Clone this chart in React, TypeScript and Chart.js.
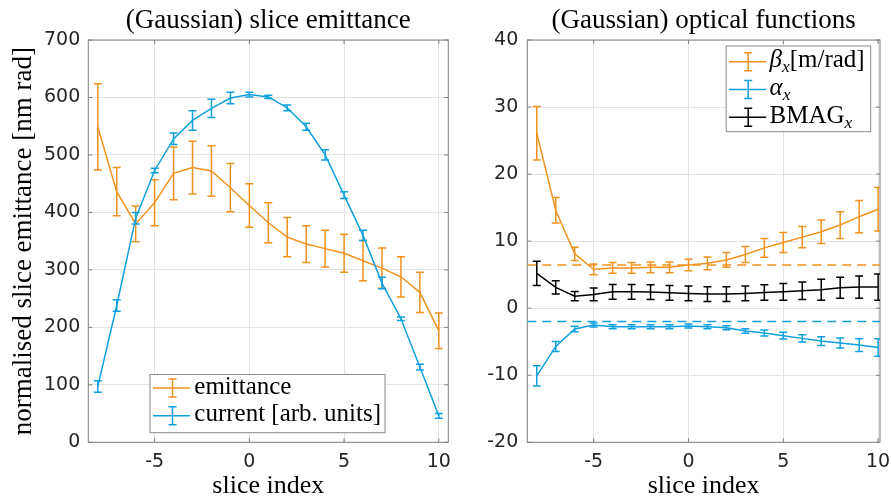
import React, { useEffect, useRef } from "react";
import { Chart, registerables } from "chart.js";

Chart.register(...registerables);

// ---------------- data ----------------
const sliceIndex = [-8, -7, -6, -5, -4, -3, -2, -1, 0, 1, 2, 3, 4, 5, 6, 7, 8, 9, 10];

const emittance = [549, 436, 380, 417, 468, 478, 472, 443, 412, 382, 357, 345, 337, 329, 316, 303, 288, 261, 194];
const emittanceErr = [75, 42, 31, 40, 46, 46, 44, 42, 38, 35, 34, 32, 32, 33, 35, 35, 35, 35, 31];
const current = [97, 238, 390, 473, 528, 560, 581, 599, 605, 601, 582, 549, 500, 430, 360, 277, 215, 131, 46];
const currentErr = [10, 10, 10, 4, 10, 17, 16, 10, 4, 3, 5, 6, 9, 6, 9, 10, 3, 5, 4];

const betaX = [26.1, 14.6, 8.1, 5.8, 6.0, 6.0, 6.1, 6.1, 6.45, 6.7, 7.2, 8.0, 9.0, 9.8, 10.6, 11.4, 12.4, 13.65, 14.75];
const betaXErr = [4.0, 1.9, 1.0, 0.8, 0.8, 0.8, 0.8, 0.8, 0.85, 0.95, 1.1, 1.2, 1.4, 1.5, 1.6, 1.75, 2.0, 2.4, 3.25];
const alphaX = [-10.1, -5.7, -3.1, -2.5, -2.75, -2.75, -2.75, -2.75, -2.65, -2.75, -2.9, -3.4, -3.7, -4.1, -4.5, -4.9, -5.2, -5.5, -5.85];
const alphaXErr = [1.5, 0.75, 0.4, 0.3, 0.3, 0.3, 0.3, 0.3, 0.3, 0.3, 0.3, 0.35, 0.45, 0.5, 0.55, 0.65, 0.75, 0.95, 1.3];
const bmagX = [5.2, 3.1, 1.8, 2.05, 2.45, 2.45, 2.4, 2.3, 2.2, 2.1, 2.1, 2.2, 2.35, 2.45, 2.6, 2.75, 3.05, 3.15, 3.15];
const bmagXErr = [1.8, 1.0, 0.7, 0.95, 1.1, 1.1, 1.1, 1.1, 1.1, 1.1, 1.1, 1.1, 1.15, 1.25, 1.3, 1.55, 1.55, 1.65, 1.95];

const betaDesign = 6.45;
const alphaDesign = -2.0;

const xTicks = [-5, 0, 5, 10];
const leftYTicks = [0, 100, 200, 300, 400, 500, 600, 700];
const rightYTicks = [-20, -10, 0, 10, 20, 30, 40];
const leftXRange = [-8.5, 10.5];
const rightXRange = [-8.5, 10.1];
const leftYRange = [0, 700];
const rightYRange = [-20, 40];

const leftTitle = "(Gaussian) slice emittance";
const rightTitle = "(Gaussian) optical functions";
const xLabel = "slice index";
const leftYLabel = "normalised slice emittance [nm rad]";

// ---------------- styles ----------------
const ORANGE = "rgb(242,146,30)";
const BLUE = "rgb(16,160,222)";
const BLACK = "#000000";
const GRID = "#e3e3e3";
const FRAME = "#808080";
const TICK = "#262626";
const SERIF = "'Liberation Serif', 'Times New Roman', serif";
const SANS = "'DejaVu Sans', sans-serif";
const CAP = 4;

type Seg = { t: string; it?: boolean; sub?: boolean };

function pts(xs: number[], ys: number[]) {
  return xs.map((x, i) => ({ x, y: ys[i] }));
}

// ---------------- plugins ----------------
const errorBarPlugin = {
  id: "errorBars",
  afterDatasetDraw(chart: any, args: any) {
    const ds: any = chart.data.datasets[args.index];
    if (!ds.errors) return;
    const xs = args.meta.xScale;
    const ys = args.meta.yScale;
    const ctx = chart.ctx;
    const a = chart.chartArea;
    ctx.save();
    ctx.beginPath();
    ctx.rect(a.left, a.top, a.right - a.left, a.bottom - a.top);
    ctx.clip();
    ctx.strokeStyle = ds.borderColor;
    ctx.lineWidth = 1.5;
    ctx.beginPath();
    ds.data.forEach((p: any, i: number) => {
      const e = ds.errors[i];
      const px = xs.getPixelForValue(p.x);
      const y1 = ys.getPixelForValue(p.y + e);
      const y2 = ys.getPixelForValue(p.y - e);
      ctx.moveTo(px, y1);
      ctx.lineTo(px, y2);
      ctx.moveTo(px - CAP, y1);
      ctx.lineTo(px + CAP, y1);
      ctx.moveTo(px - CAP, y2);
      ctx.lineTo(px + CAP, y2);
    });
    ctx.stroke();
    ctx.restore();
  },
};

const framePlugin = {
  id: "frameBox",
  beforeDatasetsDraw(chart: any) {
    const ctx = chart.ctx;
    const a = chart.chartArea;
    const xs = chart.scales.x;
    const ys = chart.scales.y;
    ctx.save();
    ctx.strokeStyle = FRAME;
    ctx.lineWidth = 1;
    ctx.strokeRect(a.left, a.top, a.right - a.left, a.bottom - a.top);
    ctx.beginPath();
    xs.ticks.forEach((t: any) => {
      const px = xs.getPixelForValue(t.value);
      ctx.moveTo(px, a.bottom);
      ctx.lineTo(px, a.bottom - 4);
      ctx.moveTo(px, a.top);
      ctx.lineTo(px, a.top + 4);
    });
    ys.ticks.forEach((t: any) => {
      const py = ys.getPixelForValue(t.value);
      ctx.moveTo(a.left, py);
      ctx.lineTo(a.left + 4, py);
      ctx.moveTo(a.right, py);
      ctx.lineTo(a.right - 4, py);
    });
    ctx.stroke();
    ctx.restore();
  },
};

function setFont(ctx: any, s: Seg, size: number) {
  const fs = s.sub ? size * 0.7 : size;
  ctx.font = `${s.it ? "italic " : ""}${fs}px ${SERIF}`;
}

function richWidth(ctx: any, segs: Seg[], size: number) {
  let w = 0;
  for (const s of segs) {
    setFont(ctx, s, size);
    w += ctx.measureText(s.t).width;
  }
  return w;
}

function drawRich(ctx: any, segs: Seg[], x: number, baseline: number, size: number) {
  let cx = x;
  for (const s of segs) {
    setFont(ctx, s, size);
    ctx.fillText(s.t, cx, s.sub ? baseline + size * 0.2 : baseline);
    cx += ctx.measureText(s.t).width;
  }
}

type LegendCfg = {
  items: { color: string; segs: Seg[] }[];
  anchor: "lowerLeft" | "upperRight";
  dx: number;
  dy: number;
  rowH: number;
  padTop: number;
  padBottom: number;
  lineX0: number;
  lineX1: number;
  barX: number;
  textX: number;
  padRight: number;
  size: number;
};

function makeLegendPlugin(cfg: LegendCfg) {
  return {
    id: "errLegend",
    afterDraw(chart: any) {
      const ctx = chart.ctx;
      const a = chart.chartArea;
      ctx.save();
      const maxW = Math.max(...cfg.items.map((it) => richWidth(ctx, it.segs, cfg.size)));
      const w = cfg.textX + maxW + cfg.padRight;
      const h = cfg.padTop + (cfg.items.length - 1) * cfg.rowH + cfg.padBottom;
      let left: number, top: number;
      if (cfg.anchor === "lowerLeft") {
        left = a.left + cfg.dx;
        top = a.bottom - cfg.dy - h;
      } else {
        left = a.right - cfg.dx - w;
        top = a.top + cfg.dy;
      }
      ctx.fillStyle = "#ffffff";
      ctx.fillRect(left, top, w, h);
      ctx.strokeStyle = "#8a8a8a";
      ctx.lineWidth = 1;
      ctx.strokeRect(left, top, w, h);
      cfg.items.forEach((it, i) => {
        const ry = top + cfg.padTop + i * cfg.rowH;
        ctx.strokeStyle = it.color;
        ctx.lineWidth = 1.5;
        ctx.beginPath();
        ctx.moveTo(left + cfg.lineX0, ry);
        ctx.lineTo(left + cfg.lineX1, ry);
        const bx = left + cfg.barX;
        ctx.moveTo(bx, ry - 9);
        ctx.lineTo(bx, ry + 9);
        ctx.moveTo(bx - CAP, ry - 9);
        ctx.lineTo(bx + CAP, ry - 9);
        ctx.moveTo(bx - CAP, ry + 9);
        ctx.lineTo(bx + CAP, ry + 9);
        ctx.stroke();
        ctx.fillStyle = "#000000";
        ctx.textBaseline = "alphabetic";
        ctx.textAlign = "left";
        drawRich(ctx, it.segs, left + cfg.textX, ry + cfg.size * 0.22, cfg.size);
      });
      ctx.restore();
    },
  };
}

// ---------------- config helpers ----------------
function xScale(range: number[]) {
  return {
    type: "linear",
    min: range[0],
    max: range[1],
    afterBuildTicks: (s: any) => {
      s.ticks = xTicks.map((v) => ({ value: v }));
    },
    afterFit: (s: any) => {
      s.height = 57.7;
      s.paddingLeft = 0;
      s.paddingRight = 0;
    },
    grid: { color: GRID, lineWidth: 1, drawTicks: false },
    border: { display: false },
    ticks: {
      padding: 8,
      color: TICK,
      font: { family: SANS, size: 19 },
      maxRotation: 0,
      autoSkip: false,
      callback: (v: any) => String(v),
    },
    title: {
      display: true,
      text: xLabel,
      color: "#000",
      font: { family: SERIF, size: 26, lineHeight: 1 },
      padding: { top: 0, bottom: 1 },
    },
  };
}

function yScale(range: number[], ticks: number[], width: number, pad: number, label?: string) {
  return {
    type: "linear",
    min: range[0],
    max: range[1],
    afterBuildTicks: (s: any) => {
      s.ticks = ticks.map((v) => ({ value: v }));
    },
    afterFit: (s: any) => {
      s.width = width;
      s.paddingTop = 0;
      s.paddingBottom = 0;
    },
    grid: { color: GRID, lineWidth: 1, drawTicks: false },
    border: { display: false },
    ticks: {
      padding: pad,
      color: TICK,
      font: { family: SANS, size: 19 },
      autoSkip: false,
      callback: (v: any) => String(v),
    },
    title: label
      ? {
          display: true,
          text: label,
          color: "#000",
          font: { family: SERIF, size: 27, lineHeight: 1 },
          padding: { top: 10.5, bottom: 0 },
        }
      : { display: false },
  };
}

function titleOpts(text: string) {
  return {
    display: true,
    text,
    fullSize: false,
    color: "#000",
    font: { family: SERIF, size: 27, weight: "normal", lineHeight: 1.2 },
    padding: { top: 4.4, bottom: 3.2 },
  };
}

function lineDs(label: string, data: any[], color: string, order: number, errors?: number[], dash?: number[]) {
  return {
    label,
    data,
    errors,
    borderColor: color,
    backgroundColor: color,
    borderWidth: 1.5,
    borderDash: dash || [],
    pointRadius: 0,
    pointHoverRadius: 0,
    tension: 0,
    fill: false,
    order,
  };
}

function leftConfig(): any {
  return {
    type: "line",
    data: {
      datasets: [
        lineDs("emittance", pts(sliceIndex, emittance), ORANGE, 2, emittanceErr),
        lineDs("current [arb. units]", pts(sliceIndex, current), BLUE, 1, currentErr),
      ],
    },
    options: {
      responsive: false,
      animation: false,
      devicePixelRatio: 1,
      layout: { padding: { left: 0, right: 1.7, top: 0, bottom: 0 } },
      scales: {
        x: xScale(leftXRange),
        y: yScale(leftYRange, leftYTicks, 88.3, 8, leftYLabel),
      },
      plugins: {
        legend: { display: false },
        tooltip: { enabled: false },
        title: titleOpts(leftTitle),
      },
    },
    plugins: [
      framePlugin,
      errorBarPlugin,
      makeLegendPlugin({
        items: [
          { color: ORANGE, segs: [{ t: "emittance" }] },
          { color: BLUE, segs: [{ t: "current [arb. units]" }] },
        ],
        anchor: "lowerLeft",
        dx: 61.7,
        dy: 9.6,
        rowH: 27.7,
        padTop: 13.5,
        padBottom: 17,
        lineX0: 3,
        lineX1: 40,
        barX: 22.5,
        textX: 44.3,
        padRight: 4,
        size: 25,
      }),
    ],
  };
}

function rightConfig(): any {
  const dashX = [rightXRange[0], rightXRange[1]];
  return {
    type: "line",
    data: {
      datasets: [
        lineDs("beta", pts(sliceIndex, betaX), ORANGE, 5, betaXErr),
        lineDs("alpha", pts(sliceIndex, alphaX), BLUE, 4, alphaXErr),
        lineDs("bmag", pts(sliceIndex, bmagX), BLACK, 3, bmagXErr),
        lineDs("beta design", pts(dashX, [betaDesign, betaDesign]), ORANGE, 2, undefined, [9, 6]),
        lineDs("alpha design", pts(dashX, [alphaDesign, alphaDesign]), BLUE, 1, undefined, [9, 6]),
      ],
    },
    options: {
      responsive: false,
      animation: false,
      devicePixelRatio: 1,
      layout: { padding: { left: 0, right: 11, top: 0, bottom: 0 } },
      scales: {
        x: xScale(rightXRange),
        y: yScale(rightYRange, rightYTicks, 77.3, 9),
      },
      plugins: {
        legend: { display: false },
        tooltip: { enabled: false },
        title: titleOpts(rightTitle),
      },
    },
    plugins: [
      framePlugin,
      errorBarPlugin,
      makeLegendPlugin({
        items: [
          { color: ORANGE, segs: [{ t: "β", it: true }, { t: "x", it: true, sub: true }, { t: "[m/rad]" }] },
          { color: BLUE, segs: [{ t: "α", it: true }, { t: "x", it: true, sub: true }] },
          { color: BLACK, segs: [{ t: "BMAG" }, { t: "x", it: true, sub: true }] },
        ],
        anchor: "upperRight",
        dx: 9.3,
        dy: 6,
        rowH: 27.8,
        padTop: 15.7,
        padBottom: 14.4,
        lineX0: 2.7,
        lineX1: 40,
        barX: 22,
        textX: 43.3,
        padRight: 6,
        size: 25,
      }),
    ],
  };
}

function Panel({ width, left, make }: { width: number; left: number; make: () => any }) {
  const ref = useRef<HTMLCanvasElement>(null);
  useEffect(() => {
    const chart = new Chart(ref.current as HTMLCanvasElement, make());
    return () => chart.destroy();
  }, []);
  return (
    <canvas
      ref={ref}
      width={width}
      height={500}
      style={{ position: "absolute", left, top: 0, width, height: 500, display: "block" }}
    />
  );
}

export default function App() {
  return (
    <div style={{ position: "fixed", left: 0, top: 0, width: 891, height: 500, background: "#ffffff", overflow: "hidden" }}>
      <Panel width={450} left={0} make={leftConfig} />
      <Panel width={441} left={450} make={rightConfig} />
    </div>
  );
}
